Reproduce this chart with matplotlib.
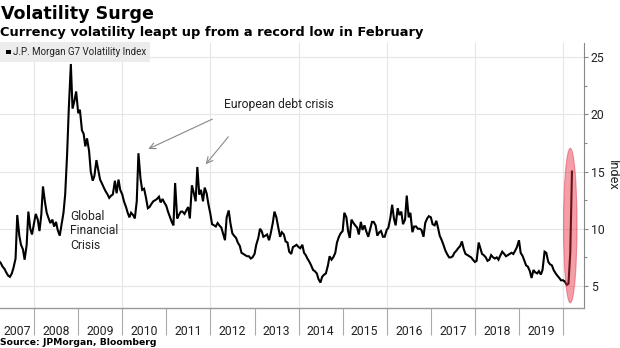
import matplotlib
matplotlib.use('Agg')
import matplotlib.pyplot as plt
import matplotlib.dates as mdates
from matplotlib.patches import Ellipse, Rectangle
from matplotlib.ticker import MultipleLocator, NullFormatter
import numpy as np
import pandas as pd

# J.P. Morgan G7 volatility index, semi-monthly readings (1st and 15th)
vol_2007 = [7.2, 7.0, 6.7, 6.5, 6.2, 5.9, 5.8, 6.1, 6.6, 7.4, 11.2, 9.4, 8.6, 8.2, 7.3, 8.6, 11.5, 10.0, 9.5]
vol_2008 = [10.5, 11.3, 10.8, 9.8, 11.2, 13.7, 12.3, 11.4, 10.9, 10.5, 10.8, 10.2,
            10.6, 9.9, 9.4, 10.3, 11.4, 13.0, 16.5, 20.5, 24.4, 20.5, 21.2, 22.0]
vol_2009 = [20.1, 20.4, 18.6, 18.3, 17.2, 17.9, 16.8, 15.0, 14.2, 14.6, 16.0, 15.2,
            14.3, 14.0, 13.6, 13.3, 13.0, 12.7, 12.9, 13.0, 14.2, 13.1, 14.3, 13.4]
vol_2010 = [13.0, 12.4, 11.9, 11.4, 11.0, 11.4, 11.2, 10.9, 12.4, 16.6, 14.4, 13.4,
            13.5, 12.8, 11.8, 11.9, 12.2, 12.4, 12.5, 12.6, 12.8, 12.3, 12.6, 12.3]
vol_2011 = [12.0, 11.5, 11.0, 10.6, 10.3, 14.0, 10.9, 11.2, 11.5, 11.5, 11.3, 11.6,
            11.9, 10.9, 13.8, 13.2, 12.4, 15.4, 13.0, 13.4, 12.4, 13.6, 13.1, 12.2]
vol_2012 = [11.3, 10.4, 10.3, 10.2, 10.5, 10.3, 10.1, 9.6, 9.0, 11.0, 11.6, 10.5,
            9.6, 9.4, 9.2, 8.8, 8.5, 7.9, 7.8, 7.7, 7.6, 7.6, 7.4, 7.5]
vol_2013 = [7.8, 8.6, 9.2, 10.0, 9.8, 9.3, 9.4, 9.5, 9.0, 9.6, 10.5, 11.5,
            11.0, 10.2, 9.3, 9.7, 9.5, 8.9, 8.8, 8.0, 7.8, 8.4, 8.5, 8.6]
vol_2014 = [8.4, 8.3, 8.6, 7.9, 7.7, 7.4, 7.1, 6.8, 6.4, 6.3, 6.1, 5.6,
            5.3, 5.8, 6.0, 6.1, 6.8, 7.6, 7.3, 7.5, 7.9, 8.8, 9.3, 9.6]
vol_2015 = [9.8, 11.4, 11.0, 9.8, 9.2, 10.8, 10.5, 10.3, 10.1, 9.5, 10.6, 9.9,
            10.3, 9.8, 9.3, 9.9, 10.6, 10.6, 10.3, 9.4, 9.7, 9.8, 9.3, 9.3]
vol_2016 = [9.9, 10.1, 11.0, 12.1, 10.9, 10.3, 11.8, 11.2, 11.5, 10.4, 10.8, 12.9,
            11.0, 11.4, 9.7, 10.2, 10.2, 10.0, 10.0, 9.9, 9.3, 10.5, 10.9, 11.1]
vol_2017 = [11.0, 10.4, 10.3, 10.7, 10.1, 9.4, 9.0, 8.6, 8.1, 7.8, 7.5, 7.5,
            7.6, 7.9, 8.1, 8.3, 8.5, 8.9, 8.2, 7.8, 7.7, 7.6, 7.5, 7.3]
vol_2018 = [7.1, 7.2, 8.8, 8.3, 7.8, 7.7, 7.5, 7.2, 7.3, 7.7, 7.5, 7.4,
            7.5, 7.3, 7.7, 8.0, 7.8, 7.6, 7.7, 7.8, 7.9, 7.8, 8.1, 8.4]
vol_2019 = [9.0, 7.9, 7.6, 7.2, 6.8, 6.7, 6.3, 5.7, 6.4, 6.2, 6.1, 6.3,
            6.0, 6.4, 8.0, 7.9, 7.1, 6.9, 6.8, 6.4, 6.1, 5.9, 5.7, 5.5]
vol_2020 = [5.5, 5.4, 5.1, 5.2, 7.9, 15.0]

year_labels = [str(y) for y in range(2007, 2020)]

vol = np.concatenate([vol_2007, vol_2008, vol_2009, vol_2010, vol_2011, vol_2012, vol_2013,
                      vol_2014, vol_2015, vol_2016, vol_2017, vol_2018, vol_2019, vol_2020])
dates = pd.date_range('2007-03-15', periods=len(vol), freq='SMS')

plt.rcParams['font.family'] = 'Roboto'
text_col = '#222222'
grid_col = '#e6e6e6'

fig = plt.figure(figsize=(6.2, 3.48), dpi=100)
ax = fig.add_axes([0, 0.115, 0.942, 0.761])

x_left = pd.Timestamp('2007-03-25')
x_right = pd.Timestamp('2020-06-23')
ax.set_xlim(x_left, x_right)
ax.set_ylim(3.08, 26.22)

# grid: horizontal at every 5, vertical every other year
ax.grid(axis='y', which='major', color=grid_col, lw=0.8, zorder=0)
for yr in range(2008, 2021, 2):
    ax.axvline(pd.Timestamp(f'{yr}-01-01'), color=grid_col, lw=0.8, zorder=0)

ax.plot(dates, vol, color='black', lw=1.5, zorder=3, solid_joinstyle='miter')

# highlight the latest jump
ell = Ellipse((mdates.date2num(pd.Timestamp('2020-03-01')), 10.28), width=112, height=13.5,
              facecolor='#e8283c', edgecolor='#d9304a', alpha=0.45, lw=0.8, zorder=4)
ax.add_patch(ell)

for side in ['left', 'top']:
    ax.spines[side].set_visible(False)
ax.spines['right'].set_color('#888888')
ax.spines['bottom'].set_color('#999999')
ax.spines['bottom'].set_linewidth(1.0)

# right hand value axis
ax.yaxis.tick_right()
ax.yaxis.set_label_position('right')
ax.set_yticks([5, 10, 15, 20, 25])
ax.yaxis.set_minor_locator(MultipleLocator(2.5))
ax.tick_params(axis='y', which='major', length=3, width=0.8, color='#888888',
               pad=2, labelsize=8.8, labelcolor=text_col)
ax.tick_params(axis='y', which='minor', length=2, width=0.8, color='#888888')
ax.set_ylabel('Index', rotation=270, fontsize=9.2, color=text_col, labelpad=10)

# year separators as long major ticks, labels centred on minor ticks
ax.xaxis.set_major_locator(mdates.YearLocator())
ax.xaxis.set_major_formatter(NullFormatter())
label_pos = [x_left + (pd.Timestamp('2008-01-01') - x_left) / 2]
label_pos += [pd.Timestamp(f'{y}-07-02') for y in range(2008, 2020)]
ax.set_xticks(label_pos, labels=year_labels, minor=True)
ax.tick_params(axis='x', which='major', length=19.5, width=0.8, color='#aaaaaa')
ax.tick_params(axis='x', which='minor', length=0, pad=12, labelsize=8.8, labelcolor=text_col)

# annotations
ax.text(mdates.date2num(pd.Timestamp('2012-04-22')), 20.9, 'European debt crisis',
        fontsize=8.7, color=text_col, va='center', ha='left')
arrow_kw = dict(arrowstyle='->,head_length=0.45,head_width=0.22', color='#888888', lw=0.8,
                shrinkA=0, shrinkB=0)
ax.annotate('', xy=(mdates.date2num(pd.Timestamp('2010-08-04')), 16.97),
            xytext=(mdates.date2num(pd.Timestamp('2012-01-17')), 19.58), arrowprops=arrow_kw)
ax.annotate('', xy=(mdates.date2num(pd.Timestamp('2011-11-23')), 15.63),
            xytext=(mdates.date2num(pd.Timestamp('2012-05-29')), 18.04), arrowprops=arrow_kw)
ax.text(mdates.date2num(pd.Timestamp('2008-10-26')), 9.85, 'Global\nFinancial\nCrisis',
        fontsize=8.7, color=text_col, va='center', ha='left', linespacing=1.15)

# legend box
fig.patches.append(Rectangle((0, 0.8218), 0.242, 0.0575, transform=fig.transFigure,
                             facecolor='#ececec', edgecolor='none', zorder=5))
fig.patches.append(Rectangle((0.0097, 0.8435), 0.0075, 0.0135, transform=fig.transFigure,
                             facecolor='black', edgecolor='none', zorder=6))
fig.text(0.021, 0.851, 'J.P. Morgan G7 Volatility Index', fontsize=7, color=text_col,
         va='center', ha='left', zorder=7)

# titles and source
fig.text(0.002, 0.9454, 'Volatility Surge', family='DejaVu Sans', weight='bold',
         fontsize=12.6, color='black', va='baseline')
fig.text(0.0, 0.8966, 'Currency volatility leapt up from a record low in February',
         family='DejaVu Sans', weight='bold', fontsize=9.4, color='black', va='baseline')
fig.text(0.0, 0.008, 'Source: JPMorgan, Bloomberg', family='DejaVu Sans', weight='bold',
         fontsize=6.7, color='black', va='baseline')

fig.savefig('out.png', dpi=100)
